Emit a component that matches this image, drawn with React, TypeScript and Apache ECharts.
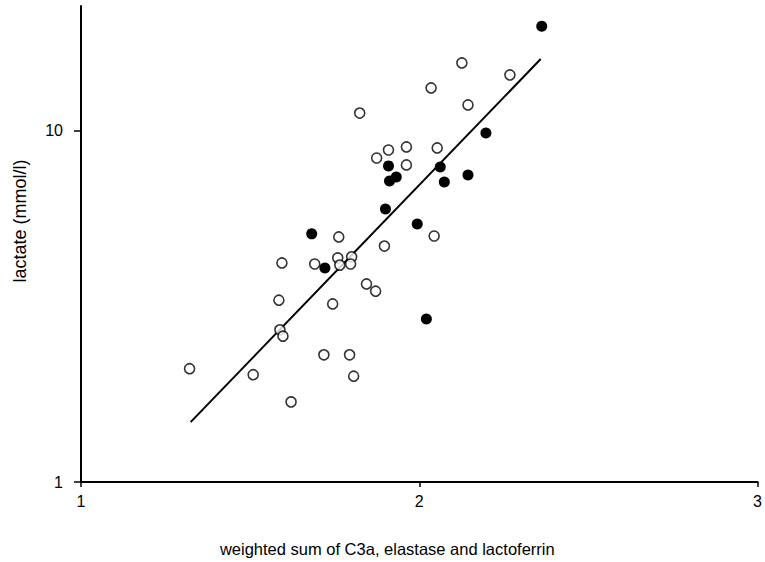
import React, { useEffect, useRef } from "react";
import * as echarts from "echarts";

// filled circles: [x, lactate]
const filledX = [2.362, 2.197, 1.909, 2.062, 1.932, 1.912, 2.074, 2.144, 1.9, 1.994, 1.682, 1.721, 2.021];
const filledY = [19.8, 9.84, 7.93, 7.87, 7.37, 7.18, 7.14, 7.47, 5.98, 5.42, 5.08, 4.06, 2.91];

// open circles
const openX = [2.126, 2.035, 2.268, 2.144, 1.824, 1.874, 1.909, 1.962, 1.962, 2.053, 1.762, 1.897, 2.044, 1.759, 1.8, 1.765, 1.797, 1.594, 1.691, 1.844, 1.871, 1.585, 1.744, 1.588, 1.597, 1.718, 1.794, 1.321, 1.509, 1.806, 1.621];
const openY = [15.56, 13.21, 14.39, 11.82, 11.21, 8.35, 8.8, 8.98, 7.98, 8.92, 4.98, 4.69, 5.01, 4.34, 4.37, 4.14, 4.17, 4.2, 4.17, 3.66, 3.49, 3.29, 3.21, 2.71, 2.6, 2.3, 2.3, 2.1, 2.02, 2.0, 1.69];

// regression line endpoints
const lineX = [1.324, 2.359];
const lineY = [1.48, 15.97];

const xTicks = [1, 2, 3];
const yTicks = [1, 10];

const xTitle = "weighted sum of C3a, elastase and lactoferrin";
const yTitle = "lactate (mmol/l)";

const zip = (a: number[], b: number[]) => a.map((v, i) => [v, b[i]]);

export default function App() {
  const ref = useRef<HTMLDivElement>(null);
  useEffect(() => {
    if (!ref.current) return;
    const chart = echarts.init(ref.current, null, { renderer: "svg" });
    const font = "Liberation Sans, Arial, sans-serif";
    chart.setOption({
      animation: false,
      backgroundColor: "#ffffff",
      textStyle: { fontFamily: font },
      grid: { left: 81, right: 5, top: 6, bottom: 80 },
      xAxis: {
        type: "value",
        min: 1,
        max: 3,
        interval: 1,
        name: xTitle,
        nameLocation: "middle",
        nameGap: 58,
        nameTextStyle: { color: "#000", fontSize: 16.5, fontFamily: font, padding: [0, 64, 0, 0] },
        axisLine: { onZero: false, lineStyle: { color: "#000", width: 2 } },
        axisTick: { show: true, inside: false, length: 5, lineStyle: { color: "#000", width: 1.5 } },
        axisLabel: { color: "#000", fontSize: 16, margin: 11, fontFamily: font, customValues: xTicks },
        splitLine: { show: false },
      },
      yAxis: {
        type: "log",
        logBase: 10,
        min: 1,
        max: 22.6,
        name: yTitle,
        nameLocation: "middle",
        nameGap: 52,
        nameRotate: 90,
        nameTextStyle: { color: "#000", fontSize: 18, fontFamily: font, padding: [0, 0, 0, 46] },
        axisLine: { onZero: false, lineStyle: { color: "#000", width: 2 } },
        axisTick: { show: true, inside: false, length: 7, lineStyle: { color: "#000", width: 1.5 }, customValues: yTicks },
        axisLabel: { color: "#000", fontSize: 16, margin: 18, fontFamily: font, customValues: yTicks },
        splitLine: { show: false },
        minorTick: { show: false },
      },
      series: [
        {
          type: "line",
          data: zip(lineX, lineY),
          symbol: "none",
          lineStyle: { color: "#000", width: 2 },
          z: 1,
        },
        {
          type: "scatter",
          data: zip(openX, openY),
          symbol: "circle",
          symbolSize: 10,
          itemStyle: { color: "#fff", borderColor: "#000", borderWidth: 1.6 },
          z: 2,
        },
        {
          type: "scatter",
          data: zip(filledX, filledY),
          symbol: "circle",
          symbolSize: 11,
          itemStyle: { color: "#000", opacity: 1 },
          z: 3,
        },
      ],
    });
    return () => chart.dispose();
  }, []);
  return <div ref={ref} style={{ width: 765, height: 562, position: "absolute", left: 0, top: 0 }} />;
}
